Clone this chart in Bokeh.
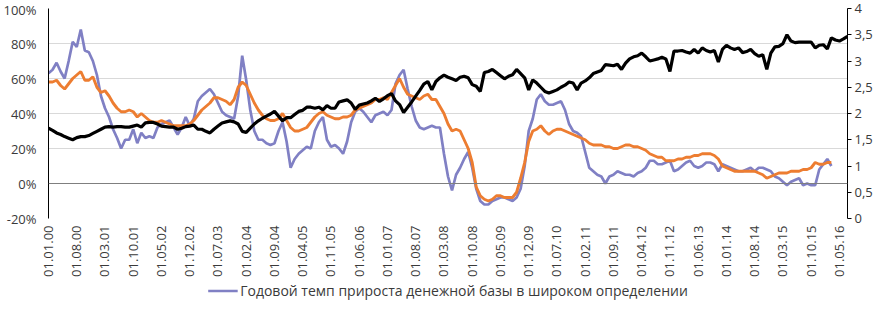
from math import pi
from bokeh.plotting import figure
from bokeh.layouts import column
from bokeh.models import Range1d, LinearAxis, FixedTicker, Span, Legend, LegendItem
from bokeh.embed import file_html
from bokeh.resources import INLINE

# Monthly data, Jan 2000 onward
purple = [63, 65, 69, 64, 60, 70, 81, 78, 88, 76, 75, 70, 62, 50, 43, 38, 31, 26, 20, 25,
          25, 31, 23, 29, 26, 27, 26, 32, 34, 35, 36, 32, 28, 32, 38, 33, 37, 47, 50, 52,
          54, 51, 46, 41, 39, 38, 37, 50, 73, 59, 42, 30, 25, 25, 23, 22, 23, 30, 35, 24,
          9, 14, 17, 19, 21, 20, 30, 35, 38, 25, 21, 22, 20, 17, 24, 35, 41, 43, 41, 38,
          35, 39, 40, 41, 39, 42, 57, 62, 65, 54, 44, 36, 32, 31, 32, 33, 32, 32, 17, 4,
          -4, 5, 9, 14, 18, 9, -3, -10, -12, -12, -10, -9, -8, -8, -9, -10, -8, -3, 10, 30,
          37, 48, 51, 47, 45, 45, 46, 47, 42, 34, 30, 29, 27, 18, 9, 7, 5, 4, 0, 4,
          5, 7, 6, 5, 5, 4, 6, 7, 9, 13, 13, 11, 11, 12, 13, 7, 8, 10, 12, 13,
          10, 9, 10, 12, 12, 11, 7, 11, 10, 9, 8, 7, 7, 8, 9, 7, 9, 9, 8, 7,
          4, 3, 1, -1, 1, 2, 3, -1, 0, -1, -1, 8, 11, 14, 10]

orange = [58, 58, 59, 56, 54, 57, 60, 62, 64, 59, 59, 61, 55, 52, 53, 50, 46, 43, 41, 41,
          42, 41, 38, 40, 38, 36, 35, 35, 36, 35, 34, 33, 33, 33, 33, 34, 36, 39, 42, 44,
          46, 49, 49, 48, 47, 45, 48, 55, 58, 56, 51, 46, 42, 39, 37, 36, 36, 37, 40, 36,
          32, 30, 30, 31, 32, 35, 38, 40, 41, 39, 38, 37, 37, 38, 38, 39, 42, 43, 44, 45,
          46, 48, 48, 49, 48, 52, 56, 60, 55, 51, 50, 49, 48, 50, 51, 48, 48, 44, 40, 34,
          30, 31, 30, 25, 20, 12, -2, -7, -9, -10, -9, -7, -7, -8, -8, -8, -5, 3, 12, 24,
          30, 31, 33, 30, 28, 30, 31, 31, 30, 29, 28, 27, 26, 25, 23, 22, 22, 22, 21, 21,
          20, 20, 21, 22, 22, 21, 21, 20, 19, 17, 16, 15, 15, 13, 13, 13, 14, 14, 15, 15,
          16, 16, 17, 17, 17, 16, 14, 10, 9, 8, 7, 7, 7, 7, 7, 7, 6, 5, 3, 4,
          5, 6, 6, 6, 7, 7, 7, 8, 8, 9, 12, 11, 11, 12, 12]

black = [1.72, 1.68, 1.63, 1.60, 1.56, 1.53, 1.50, 1.54, 1.56, 1.56, 1.58, 1.62, 1.66, 1.70, 1.74, 1.75, 1.74, 1.75, 1.75, 1.74,
         1.74, 1.76, 1.78, 1.74, 1.82, 1.83, 1.83, 1.80, 1.76, 1.75, 1.74, 1.74, 1.70, 1.72, 1.75, 1.76, 1.78, 1.70, 1.70, 1.66,
         1.63, 1.70, 1.76, 1.82, 1.84, 1.86, 1.84, 1.80, 1.66, 1.64, 1.72, 1.80, 1.86, 1.91, 1.95, 1.99, 2.04, 1.95, 1.86, 1.92,
         1.92, 1.98, 2.04, 2.06, 2.12, 2.12, 2.10, 2.12, 2.07, 2.15, 2.10, 2.10, 2.22, 2.24, 2.26, 2.20, 2.08, 2.16, 2.18, 2.20,
         2.24, 2.29, 2.23, 2.28, 2.34, 2.38, 2.24, 2.17, 2.02, 2.12, 2.22, 2.33, 2.44, 2.56, 2.61, 2.45, 2.61, 2.68, 2.73, 2.69,
         2.66, 2.63, 2.69, 2.71, 2.68, 2.55, 2.52, 2.42, 2.78, 2.80, 2.84, 2.78, 2.72, 2.66, 2.71, 2.74, 2.84, 2.76, 2.68, 2.45,
         2.64, 2.58, 2.50, 2.42, 2.39, 2.42, 2.45, 2.50, 2.54, 2.60, 2.58, 2.45, 2.58, 2.62, 2.68, 2.76, 2.79, 2.82, 2.93, 2.92,
         2.91, 2.94, 2.84, 2.96, 3.04, 3.08, 3.10, 3.15, 3.08, 3.00, 3.02, 3.04, 3.07, 3.04, 2.80, 3.19, 3.19, 3.20, 3.17, 3.15,
         3.22, 3.15, 3.25, 3.20, 3.17, 3.20, 2.98, 3.22, 3.30, 3.25, 3.22, 3.25, 3.16, 3.18, 3.22, 3.14, 3.09, 3.12, 2.84, 3.15,
         3.27, 3.28, 3.33, 3.50, 3.38, 3.35, 3.36, 3.36, 3.36, 3.36, 3.25, 3.30, 3.31, 3.23, 3.44, 3.40, 3.38, 3.42, 3.47]

tick_labels = ["01.01.00", "01.08.00", "01.03.01", "01.10.01", "01.05.02", "01.12.02", "01.07.03",
               "01.02.04", "01.09.04", "01.04.05", "01.11.05", "01.06.06", "01.01.07", "01.08.07",
               "01.03.08", "01.10.08", "01.05.09", "01.12.09", "01.07.10", "01.02.11", "01.09.11",
               "01.04.12", "01.11.12", "01.06.13", "01.01.14", "01.08.14", "01.03.15", "01.10.15",
               "01.05.16"]
tick_step = 7  # months between labels

left_ticks = [-20, 0, 20, 40, 60, 80, 100]
left_labels = ["-20%", "0%", "20%", "40%", "60%", "80%", "100%"]
right_ticks = [0, 0.5, 1, 1.5, 2, 2.5, 3, 3.5, 4]
right_labels = ["0", "0,5", "1", "1,5", "2", "2,5", "3", "3,5", "4"]

legend_label = "Годовой темп прироста денежной базы в широком определении"

FONT = "Open Sans"
TXT = "#3a3a3a"
PURPLE = "#8080c4"

n = len(black)
p = figure(width=875, height=279, output_backend="svg", toolbar_location=None,
           x_range=Range1d(0, n - 1), y_range=Range1d(left_ticks[0], left_ticks[-1]),
           min_border_top=8, min_border_left=46, min_border_right=28, min_border_bottom=0)
p.outline_line_color = None
p.extra_y_ranges = {"r": Range1d(right_ticks[0], right_ticks[-1])}

p.xgrid.visible = False
p.ygrid.ticker = FixedTicker(ticks=left_ticks)
p.ygrid.grid_line_color = "#d9d9d9"
p.ygrid.grid_line_width = 1

xa = p.xaxis[0]
tick_pos = [i * tick_step for i in range(len(tick_labels))]
xa.ticker = FixedTicker(ticks=tick_pos)
xa.major_label_overrides = {t: l for t, l in zip(tick_pos, tick_labels)}
xa.major_label_orientation = pi / 2
xa.axis_line_color = None
xa.major_tick_line_color = None
xa.minor_tick_line_color = None
xa.major_tick_out = 0
xa.major_label_text_font = FONT
xa.major_label_text_font_size = "13px"
xa.major_label_text_color = TXT
xa.major_label_standoff = 7

ya = p.yaxis[0]
ya.ticker = FixedTicker(ticks=left_ticks)
ya.major_label_overrides = {t: l for t, l in zip(left_ticks, left_labels)}
ya.axis_line_color = "black"
ya.major_tick_line_color = None
ya.minor_tick_line_color = None
ya.major_tick_out = 0
ya.major_label_text_font = FONT
ya.major_label_text_font_size = "13px"
ya.major_label_text_color = TXT
ya.major_label_standoff = 12

ra = LinearAxis(y_range_name="r", ticker=FixedTicker(ticks=right_ticks))
ra.major_label_overrides = {t: l for t, l in zip(right_ticks, right_labels)}
ra.axis_line_color = "black"
ra.major_tick_line_color = "black"
ra.major_tick_out = 4
ra.major_tick_in = 0
ra.minor_tick_line_color = None
ra.major_label_text_font = FONT
ra.major_label_text_font_size = "13px"
ra.major_label_text_color = TXT
ra.major_label_standoff = 3
p.add_layout(ra, "right")

p.add_layout(Span(location=0, dimension="width", line_color="#7f7f7f", line_width=1))

r_p = p.line(list(range(len(purple))), purple, line_color=PURPLE, line_width=2.7)
r_o = p.line(list(range(len(orange))), orange, line_color="#ed7d31", line_width=2.9)
r_b = p.line(list(range(n)), black, line_color="black", line_width=3.2, y_range_name="r")

# Legend strip below the chart (only the first series is listed, as in the original)
lg = figure(width=875, height=22, output_backend="svg", toolbar_location=None,
            x_range=Range1d(0, 1), y_range=Range1d(0, 1),
            min_border=0, min_border_left=0, min_border_right=0, min_border_top=0, min_border_bottom=0)
lg.axis.visible = False
lg.grid.visible = False
lg.outline_line_color = None
# a sample renderer kept outside the strip's visible range, used only for the legend swatch
r_leg = lg.line([5, 6], [5, 6], line_color=PURPLE, line_width=2.7)
legend = Legend(items=[LegendItem(label=legend_label, renderers=[r_leg])],
                orientation="horizontal", location="center",
                border_line_color=None, background_fill_alpha=0,
                label_text_font=FONT, label_text_font_size="14px", label_text_color=TXT,
                glyph_width=30, glyph_height=14, padding=0, margin=0, label_standoff=3)
lg.add_layout(legend, "center")

layout = column(p, lg, spacing=0)
open("out.html", "w").write(file_html(layout, INLINE))
